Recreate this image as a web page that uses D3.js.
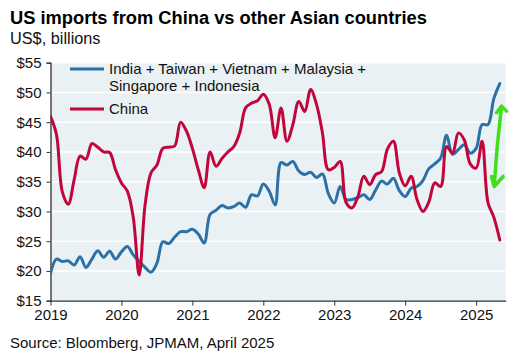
<!DOCTYPE html>
<html><head><meta charset="utf-8">
<script src="https://cdn.jsdelivr.net/npm/d3@7"></script>
<style>
html,body{margin:0;padding:0;background:#fff;}
svg{display:block;font-family:"Liberation Sans",Arial,sans-serif;}
</style></head>
<body>
<svg id="chart" width="526" height="363"></svg>
<script>
// ---- data (monthly, Jan 2019 onward) ----
const startYear = 2019;
const otherAsia = [19.6,22.0,21.6,21.7,21.0,22.4,20.6,22.0,23.4,22.3,23.3,22.0,
  23.2,24.1,22.7,21.6,20.6,19.8,21.3,24.9,24.6,25.7,26.6,26.6,
  27.0,26.2,24.7,29.5,30.2,31.0,30.6,30.8,31.4,30.7,32.8,32.6,
  34.6,33.4,31.1,38.2,37.8,38.4,36.8,36.2,36.6,35.7,36.3,33.0,
  31.4,34.2,32.0,32.0,32.3,32.8,32.0,33.6,35.1,34.6,35.6,33.5,
  32.5,33.9,34.2,35.2,37.2,38.0,39.0,42.8,39.6,40.4,41.2,39.8,
  40.6,44.6,44.6,49.0,51.5];
const china = [46.0,43.0,33.3,31.2,35.3,39.3,38.8,41.4,40.8,40.0,39.9,37.0,
  34.8,33.4,29.0,19.3,31.1,36.5,37.8,40.6,40.8,41.0,45.0,43.5,
  40.6,37.0,34.0,40.0,37.6,38.9,40.0,40.9,43.2,47.4,48.2,48.6,
  49.7,48.0,42.4,47.4,41.8,44.6,48.5,46.8,50.5,48.0,43.2,37.0,
  37.4,38.4,31.5,30.6,32.5,35.9,34.5,36.2,36.7,40.5,41.8,36.5,
  34.3,35.9,32.0,30.0,31.6,34.8,34.2,40.9,39.8,43.2,42.0,38.0,
  37.3,41.8,31.5,29.0,25.2];
const seriesNames = ["India + Taiwan + Vietnam + Malaysia +|Singapore + Indonesia", "China"];
const seriesColors = ["#2B70A7", "#C1063B"];
const yTicks = [15,20,25,30,35,40,45,50,55];
const yearTicks = [2019,2020,2021,2022,2023,2024,2025];
const titleText = "US imports from China vs other Asian countries";
const subtitleText = "US$, billions";
const sourceText = "Source: Bloomberg, JPMAM, April 2025";
// annotation arrow: [month index, US$ bn] for top tip and bottom tip
const gapArrow = [[76.3, 47.7], [75.05, 34.2]];

// ---- layout ----
const svg = d3.select("#chart");
const m = {left:50.5, right:505.7, top:62.7, bottom:300.7};
// x scale over month index (0 = Jan 2019)
const x = d3.scaleLinear().domain([0, 77]).range([m.left, m.right]);
const y = d3.scaleLinear().domain([15,55]).range([m.bottom, m.top]);

// background
svg.append("rect").attr("x", m.left).attr("y", m.top)
  .attr("width", m.right-m.left).attr("height", m.bottom-m.top).attr("fill", "#E9F1F5");

// gridlines
svg.append("g").selectAll("line").data(yTicks.filter(v=>v>15)).join("line")
  .attr("x1", m.left).attr("x2", m.right)
  .attr("y1", d=>y(d)).attr("y2", d=>y(d))
  .attr("stroke", "#fff").attr("stroke-width", 1.5);

// axes
const yAxis = d3.axisLeft(y).tickValues(yTicks).tickSize(4).tickPadding(5).tickFormat(d=>"$"+d);
const gy = svg.append("g").attr("transform", `translate(${m.left},0)`).call(yAxis);
gy.select(".domain").attr("stroke", "#333").attr("stroke-width", 1.3);
gy.selectAll(".tick line").attr("stroke", "#333");
gy.selectAll("text").attr("font-size", 15).attr("fill", "#111").attr("font-family", "Liberation Sans, Arial, sans-serif");

const xAxis = d3.axisBottom(x).tickValues(yearTicks.map(yr=>(yr-startYear)*12))
  .tickSize(5).tickSizeOuter(0).tickPadding(4).tickFormat(d=>String(startYear + d/12));
const gx = svg.append("g").attr("transform", `translate(0,${m.bottom})`).call(xAxis);
gx.select(".domain").attr("stroke", "#333").attr("stroke-width", 1.3);
gx.selectAll(".tick line").attr("stroke", "#333");
gx.selectAll("text").attr("font-size", 15).attr("fill", "#111").attr("font-family", "Liberation Sans, Arial, sans-serif");

// lines
svg.append("clipPath").attr("id","clip").append("rect")
  .attr("x", m.left).attr("y", m.top).attr("width", m.right-m.left).attr("height", m.bottom-m.top);
const line = d3.line().x((d,i)=>x(i)).y(d=>y(d)).curve(d3.curveCatmullRom.alpha(0.5));
const lg = svg.append("g").attr("clip-path","url(#clip)");
[otherAsia, china].forEach((s,k)=>{
  lg.append("path").datum(s).attr("d", line).attr("fill","none")
    .attr("stroke", seriesColors[k]).attr("stroke-width", 3).attr("stroke-linejoin","round").attr("stroke-linecap","round");
});

// legend
const leg = svg.append("g");
const legY = [69, 109];
seriesNames.forEach((name,k)=>{
  leg.append("line").attr("x1", 70).attr("x2", 104).attr("y1", legY[k]).attr("y2", legY[k])
    .attr("stroke", seriesColors[k]).attr("stroke-width", 3);
  const lines = name.split("|");
  lines.forEach((ln,j)=>{
    leg.append("text").attr("x", 109).attr("y", legY[k]+5+j*16.5).text(ln)
      .attr("font-size", 15).attr("fill", "#111");
  });
});

// annotation arrow (green)
const tx = x(gapArrow[0][0]), ty = y(gapArrow[0][1]);
const bx = x(gapArrow[1][0]), by = y(gapArrow[1][1]);
const arrow = d3.path();
arrow.moveTo(tx, ty);
arrow.quadraticCurveTo(tx-5, (ty+by)/2, bx, by);
arrow.moveTo(tx-5, ty+6.6); arrow.lineTo(tx, ty); arrow.lineTo(tx+5, ty+5);
arrow.moveTo(bx-2.6, by-10); arrow.lineTo(bx, by); arrow.lineTo(bx+9, by-10);
svg.append("path").attr("d", arrow.toString()).attr("fill","none")
  .attr("stroke", "#3FE01A").attr("stroke-width", 3.5).attr("stroke-linecap","round").attr("stroke-linejoin","round");

// titles
svg.append("text").attr("x", 10).attr("y", 24).text(titleText)
  .attr("font-size", 18.3).attr("font-weight", "bold").attr("fill", "#000");
svg.append("text").attr("x", 10).attr("y", 44).text(subtitleText)
  .attr("font-size", 16.3).attr("fill", "#111");
svg.append("text").attr("x", 10).attr("y", 348).text(sourceText)
  .attr("font-size", 15).attr("fill", "#111");
</script>
</body></html>
